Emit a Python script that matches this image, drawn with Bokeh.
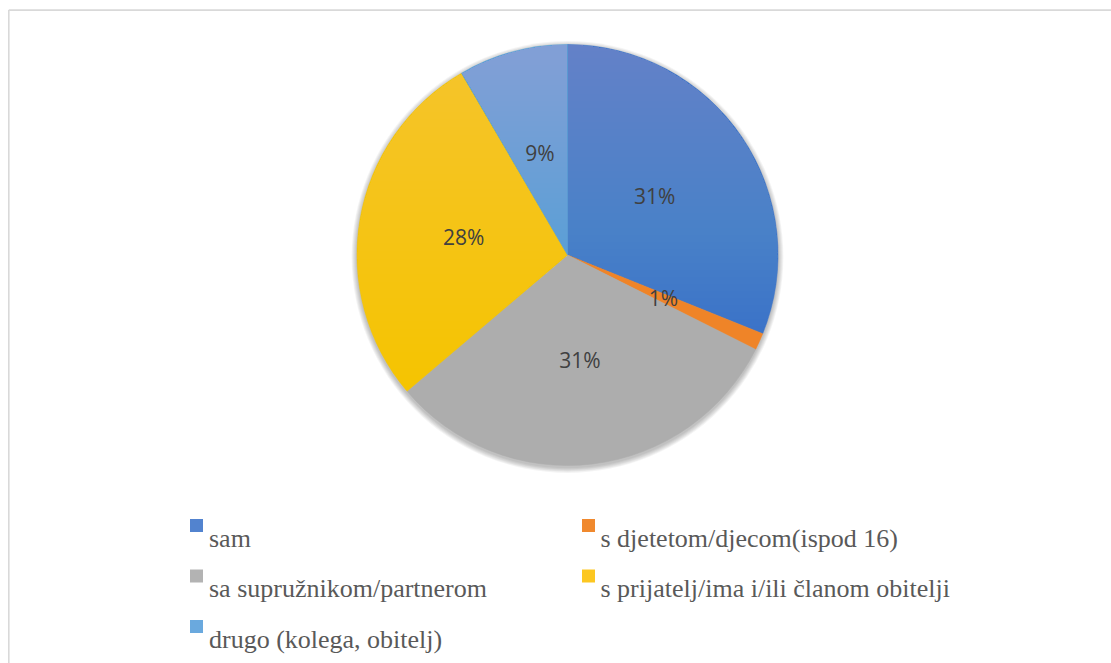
import numpy as np
from bokeh.plotting import figure
from bokeh.models import Range1d
from bokeh.core.properties import value
from bokeh.embed import file_html
from bokeh.resources import INLINE

# ---------------- data ----------------
categories = ["sam", "s djetetom/djecom(ispod 16)", "sa supružnikom/partnerom",
              "s prijatelj/ima i/ili članom obitelji", "drugo (kolega, obitelj)"]
shares = [31.1, 1.3, 31.4, 27.8, 8.4]
pct_labels = ["31%", "1%", "31%", "28%", "9%"]
base_colors = ["#3b73c8", "#ef8428", "#adadad", "#f5c400", "#5b9fd6"]
legend_colors = ["#5283cf", "#f0892e", "#b3b3b3", "#fcc721", "#6aa9de"]
top_light = [0.27, 0.15, 0.32, 0.30, 0.24]

W, H = 1111, 663
p = figure(width=W, height=H, output_backend="svg", toolbar_location=None,
           x_range=Range1d(0, W), y_range=Range1d(0, H), min_border=0,
           min_border_left=0, min_border_right=0, min_border_top=0, min_border_bottom=0)
p.axis.visible = False
p.grid.visible = False
p.outline_line_color = None
p.background_fill_color = "white"
p.border_fill_color = "white"

# frame (only the left and top edges are inside the window)
p.segment(x0=[8.3, 8.3], y0=[0, 653.4], x1=[8.3, W], y1=[653.4, 653.4],
          line_color="#d9d9d9", line_width=1.6)

cx, cy, r = 567.0, 408.5, 210.5

# soft shadow
for k in range(1, 7):
    p.circle(x=[cx], y=[cy - 2.0], radius=r + k * 0.9, fill_color="black",
             fill_alpha=0.045, line_color=None)

vals = np.array(shares, dtype=float)
frac = vals / vals.sum()
cum = np.concatenate([[0.0], np.cumsum(frac)])
start = np.pi / 2 - 2 * np.pi * cum[:-1]
end = np.pi / 2 - 2 * np.pi * cum[1:]

p.wedge(x=[cx] * len(vals), y=[cy] * len(vals), radius=r,
        start_angle=end, end_angle=start, fill_color=base_colors,
        line_color=base_colors, line_width=0.5)

# per-slice vertical light gradient (lighter at the top)
def clip_above(poly, yk):
    out = []
    n = len(poly)
    for i in range(n):
        P = poly[i]
        Q = poly[(i + 1) % n]
        pin = P[1] >= yk
        qin = Q[1] >= yk
        if pin:
            out.append(P)
        if pin != qin:
            t = (yk - P[1]) / (Q[1] - P[1])
            out.append((P[0] + t * (Q[0] - P[0]), yk))
    return out

N = 40
for i in range(len(vals)):
    a0, a1 = end[i], start[i]
    nseg = max(4, int(abs(a1 - a0) / 0.01))
    ang = np.linspace(a0, a1, nseg)
    poly = [(cx, cy)] + [(cx + r * np.cos(a), cy + r * np.sin(a)) for a in ang]
    ys = [q[1] for q in poly]
    ymin, ymax = min(ys), max(ys)
    a = 1 - (1 - top_light[i]) ** (1.0 / N)
    xs_list, ys_list = [], []
    for k in range(1, N + 1):
        yk = ymin + (ymax - ymin) * k / (N + 1)
        c = clip_above(poly, yk)
        if len(c) >= 3:
            xs_list.append([q[0] for q in c])
            ys_list.append([q[1] for q in c])
    p.patches(xs=xs_list, ys=ys_list, fill_color="white", fill_alpha=a, line_color=None)

# data labels
mid = (cum[:-1] + cum[1:]) / 2 * 2 * np.pi
lx = cx + 0.5 * r * np.sin(mid)
ly = cy + 0.5 * r * np.cos(mid)
p.text(x=lx, y=ly, text=pct_labels, text_font=value("Open Sans"), text_font_size="21px",
       text_color="#404040", text_align="center", text_baseline="middle")

# legend (2 columns, row-major)
col_sq = [196.0, 588.0]
col_tx = [208.5, 600.0]
row_c = [138.0, 87.5, 37.0]
sx, sy, tx, ty = [], [], [], []
for j in range(len(categories)):
    rr, cc = divmod(j, 2)
    sx.append(col_sq[cc]); sy.append(row_c[rr])
    tx.append(col_tx[cc]); ty.append(row_c[rr] - 12.5)
p.scatter(x=sx, y=sy, marker="square", size=13, fill_color=legend_colors, line_color=None)
p.text(x=tx, y=ty, text=categories, text_font=value("Liberation Serif"),
       text_font_size="26px", text_color="#595959", text_align="left", text_baseline="alphabetic")

open("out.html", "w").write(file_html(p, INLINE))
